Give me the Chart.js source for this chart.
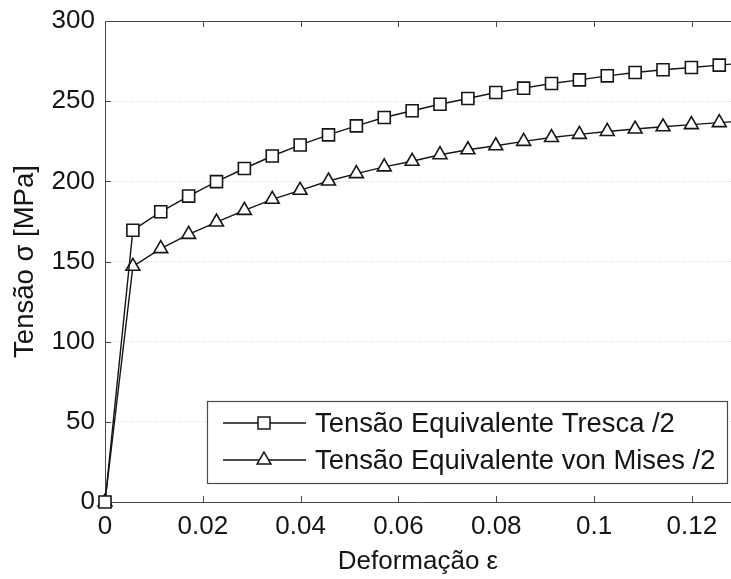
<!DOCTYPE html>
<html>
<head>
<meta charset="utf-8">
<script src="https://cdn.jsdelivr.net/npm/chart.js@4"></script>
<style>
    body { margin: 0; background: #fff; }
    canvas { display: block; }
</style>
</head>
<body>
<canvas id="stressChart" width="731" height="579"></canvas>
<script>
// deformação (strain) at each sample
const strain = [0, 0.0057, 0.0114, 0.0171, 0.0228, 0.0285, 0.0342, 0.0399, 0.0457, 0.0514, 0.0571, 0.0628,
    0.0685, 0.0742, 0.0799, 0.0856, 0.0913, 0.0970, 0.1027, 0.1084, 0.1141, 0.1199, 0.1256, 0.1313];
const trescaHalf = [0, 169.5, 181, 190.8, 199.8, 208, 215.8, 222.7, 229, 234.6, 239.8, 244,
    248.1, 251.7, 255.4, 258.1, 261, 263.3, 265.8, 267.9, 269.6, 271, 272.5, 273.9];
const vonMisesHalf = [0, 147, 158, 166.9, 174.6, 181.9, 188.8, 194.4, 200.2, 204.8, 209, 212.5,
    216.6, 219.7, 222.2, 224.9, 227.3, 229.3, 231.1, 232.6, 234, 235.4, 236.6, 237.7];
const seriesLabels = ['Tensão Equivalente Tresca /2', 'Tensão Equivalente von Mises /2'];
const xTicks = [0, 0.02, 0.04, 0.06, 0.08, 0.1, 0.12];
const yTicks = [0, 50, 100, 150, 200, 250, 300];

const FONT = 'Liberation Sans, Arial, Helvetica, sans-serif';
const AXIS_COLOR = '#4a4a4a';
const INK = '#151515';

function toPoints(ys) {
    return ys.map((y, i) => ({ x: strain[i], y: y }));
}

// MATLAB style frame: top border + inward tick marks
const framePlugin = {
    id: 'frame',
    beforeDatasetsDraw(chart) {
        const { ctx, chartArea: a, scales: { x, y } } = chart;
        ctx.save();
        ctx.strokeStyle = AXIS_COLOR;
        ctx.lineWidth = 1;
        ctx.beginPath();
        ctx.moveTo(a.left, a.top + 0.5);
        ctx.lineTo(a.right, a.top + 0.5);
        xTicks.forEach(v => {
            const px = Math.round(x.getPixelForValue(v)) + 0.5;
            ctx.moveTo(px, a.bottom);
            ctx.lineTo(px, a.bottom - 6);
            ctx.moveTo(px, a.top);
            ctx.lineTo(px, a.top + 6);
        });
        yTicks.forEach(v => {
            const py = Math.round(y.getPixelForValue(v)) + 0.5;
            ctx.moveTo(a.left, py);
            ctx.lineTo(a.left + 6, py);
        });
        ctx.stroke();
        ctx.restore();
    }
};

// legend box inside the plot, lower right
const legendPlugin = {
    id: 'boxLegend',
    afterDraw(chart) {
        const ctx = chart.ctx;
        const box = { left: 207, top: 401, right: 727, bottom: 483 };
        const rows = [423, 460];
        ctx.save();
        ctx.fillStyle = '#fff';
        ctx.fillRect(box.left, box.top, box.right - box.left, box.bottom - box.top);
        ctx.strokeStyle = AXIS_COLOR;
        ctx.lineWidth = 1.2;
        ctx.strokeRect(box.left + 0.5, box.top + 0.5, box.right - box.left, box.bottom - box.top);
        chart.data.datasets.forEach((ds, i) => {
            const yy = rows[i];
            ctx.strokeStyle = INK;
            ctx.lineWidth = 1.3;
            ctx.beginPath();
            ctx.moveTo(223, yy);
            ctx.lineTo(306, yy);
            ctx.stroke();
            ctx.fillStyle = '#fff';
            ctx.lineWidth = 1.5;
            Chart.helpers.drawPoint(ctx, { pointStyle: ds.pointStyle, radius: ds.pointRadius, rotation: 0, borderWidth: 1.5 }, 264, yy);
            ctx.fillStyle = INK;
            ctx.font = '27.4px ' + FONT;
            ctx.textBaseline = 'middle';
            ctx.textAlign = 'left';
            ctx.fillText(ds.label, 315, yy + 1);
        });
        ctx.restore();
    }
};

new Chart(document.getElementById('stressChart'), {
    type: 'scatter',
    data: {
        datasets: [
            {
                label: seriesLabels[0],
                data: toPoints(trescaHalf),
                showLine: true,
                borderColor: INK,
                borderWidth: 1.4,
                pointStyle: 'rect',
                pointRadius: 8.5,
                pointBackgroundColor: '#fff',
                pointBorderColor: INK,
                pointBorderWidth: 1.6,
                clip: false
            },
            {
                label: seriesLabels[1],
                data: toPoints(vonMisesHalf),
                showLine: true,
                borderColor: INK,
                borderWidth: 1.4,
                pointStyle: 'triangle',
                pointRadius: 8,
                pointBackgroundColor: '#fff',
                pointBorderColor: INK,
                pointBorderWidth: 1.6,
                clip: false
            }
        ]
    },
    options: {
        responsive: false,
        animation: false,
        devicePixelRatio: 1,
        layout: { autoPadding: false, padding: { top: 21, right: 0, bottom: 0, left: 0 } },
        scales: {
            x: {
                type: 'linear',
                min: 0,
                max: 0.128,
                afterFit: (scale) => {
                    scale.height = 77;
                    scale.paddingLeft = 0;
                    scale.paddingRight = 0;
                },
                grid: { display: false, drawTicks: false },
                border: { display: true, color: AXIS_COLOR, width: 1 },
                ticks: {
                    stepSize: 0.02,
                    includeBounds: false,
                    padding: 9,
                    color: INK,
                    font: { family: FONT, size: 26 },
                    maxRotation: 0,
                    callback: (v) => String(Number(v.toFixed(2)))
                },
                title: {
                    display: true,
                    text: 'Deformação ε',
                    color: INK,
                    font: { family: FONT, size: 26 },
                    padding: { top: 0, bottom: 2 }
                }
            },
            y: {
                min: 0,
                max: 300,
                afterFit: (scale) => {
                    scale.width = 105;
                    scale.paddingTop = 0;
                    scale.paddingBottom = 0;
                },
                grid: {
                    display: true,
                    drawTicks: false,
                    color: '#d4d4d4',
                    lineWidth: 1
                },
                border: { display: true, color: AXIS_COLOR, width: 1, dash: [1, 2] },
                ticks: {
                    stepSize: 50,
                    padding: 10,
                    color: INK,
                    font: { family: FONT, size: 26 }
                },
                title: {
                    display: true,
                    text: 'Tensão σ [MPa]',
                    color: INK,
                    font: { family: FONT, size: 27.5 },
                    padding: { top: 9, bottom: 0 }
                }
            }
        },
        plugins: {
            legend: { display: false },
            tooltip: { enabled: false }
        }
    },
    plugins: [framePlugin, legendPlugin]
});
</script>
</body>
</html>
